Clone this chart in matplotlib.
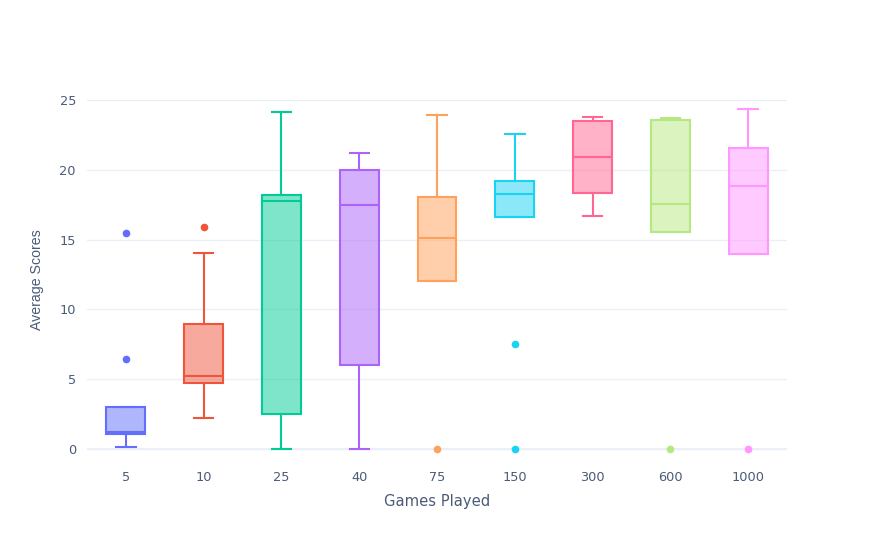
import matplotlib
matplotlib.use('Agg')
import matplotlib.pyplot as plt
from matplotlib.colors import to_rgba

# box statistics (one entry per games-played group)
games = ['5', '10', '25', '40', '75', '150', '300', '600', '1000']
whislo = [0.17, 2.24, 0.0, 0.0, 12.0, 16.61, 16.71, 15.56, 13.97]
q1 = [1.05, 4.74, 2.48, 6.0, 12.0, 16.61, 18.33, 15.56, 13.97]
med = [1.19, 5.22, 17.73, 17.45, 15.11, 18.28, 20.9, 17.52, 18.87]
q3 = [3.0, 8.96, 18.21, 20.0, 18.02, 19.23, 23.5, 23.55, 21.54]
whishi = [3.0, 14.04, 24.17, 21.19, 23.9, 22.55, 23.76, 23.69, 24.33]
outliers = [[15.49, 6.43], [15.87], [], [], [0.0], [7.51, 0.0], [], [0.0], [0.0]]

colors = ['#636efa', '#EF553B', '#00cc96', '#ab63fa', '#FFA15A',
          '#19d3f3', '#FF6692', '#B6E880', '#FF97FF']

W, H = 875, 540
fig = plt.figure(figsize=(W / 100, H / 100), dpi=100)
ax = fig.add_axes([87 / W, (H - 460) / H, 700 / W, 360 / H])

font = 'DejaVu Sans'
txt = '#4a5b78'

for i in range(len(games)):
    c = colors[i]
    stats = [dict(whislo=whislo[i], q1=q1[i], med=med[i], q3=q3[i],
                  whishi=whishi[i], fliers=outliers[i])]
    ax.bxp(stats, positions=[i], widths=0.5, patch_artist=True,
           showfliers=True,
           boxprops=dict(facecolor=to_rgba(c, 0.5), edgecolor=c, linewidth=1.5),
           medianprops=dict(color=c, linewidth=1.5),
           whiskerprops=dict(color=c, linewidth=1.5),
           capprops=dict(color=c, linewidth=1.5),
           capwidths=0.25,
           flierprops=dict(marker='o', markerfacecolor=c, markeredgecolor=c,
                           markersize=4.5, linestyle='none'),
           zorder=3)

ax.set_xlim(-0.5, 8.5)
ax.set_ylim(-0.79, 25.0)
ax.set_xticks(range(len(games)))
ax.set_xticklabels(games)
ax.set_yticks([0, 5, 10, 15, 20, 25])

ax.grid(axis='y', color='#EBF0F8', linewidth=1, zorder=0)
ax.axhline(0, color='#EBF0F8', linewidth=1.5, zorder=1)
for s in ax.spines.values():
    s.set_visible(False)
ax.tick_params(length=0, labelsize=9.3, labelcolor=txt, pad=8)
for lab in ax.get_xticklabels() + ax.get_yticklabels():
    lab.set_fontfamily(font)

ax.set_xlabel('Games Played', fontsize=10.6, color=txt, family=font, labelpad=7)
ax.set_ylabel('Average Scores', fontsize=10.2, color=txt, family='Liberation Sans')
ax.yaxis.set_label_coords(-0.061, 0.5)

fig.savefig('out.png', dpi=100)
